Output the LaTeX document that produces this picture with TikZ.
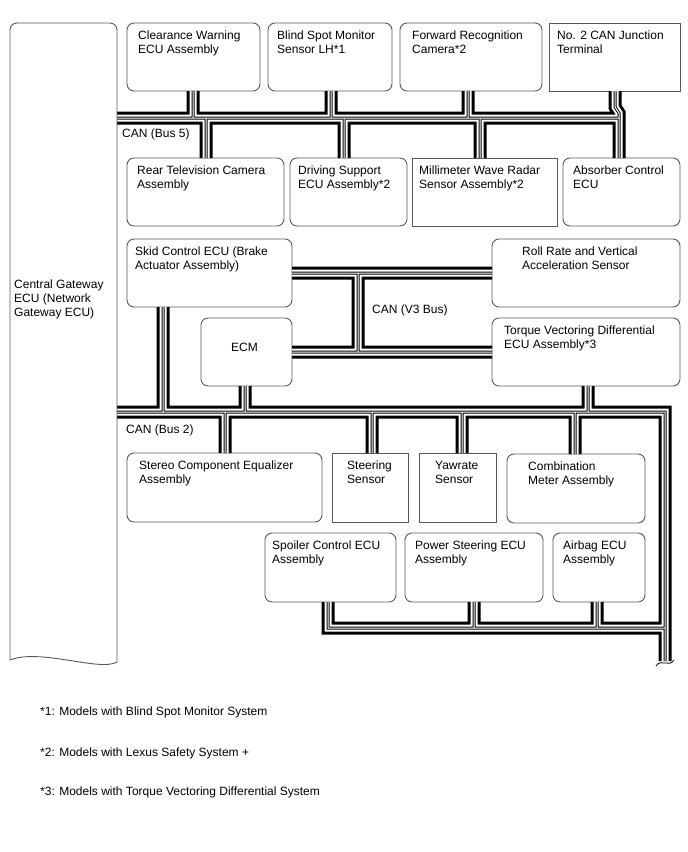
\documentclass[tikz,border=0pt]{standalone}
\usepackage{fontspec}
\setmainfont{Liberation Sans}
\usetikzlibrary{calc}
\newcommand\mkbox[6]{\node[#6, minimum width={(#4-#2)*1pt}, minimum height={(#5-#3)*1pt}] (#1) at ({(#2+#4)/2},{(#3+#5)/2}) {};}
\newcommand\txt[3]{\node[lbl] (#1-t) at ([xshift=#2pt,yshift=-6.7pt]#1.north west) {\strut #3};}
\begin{document}
\begin{tikzpicture}[x=1pt,y=-1pt,
  box/.style={draw=black!65, line width=0.9pt, fill=white, inner sep=0pt, outer sep=0pt, rounded corners=7pt},
  sqbox/.style={box, sharp corners},
  lbl/.style={anchor=north west, inner sep=0pt, align=left, font=\fontsize{12}{14}\selectfont},
  plain/.style={anchor=base west, inner sep=0pt, font=\fontsize{12}{14}\selectfont},
  gwline/.style={draw=black!65, line width=0.9pt},
  busjoin/.style={line join=miter, line cap=butt}]
\useasboundingbox (0,0) rectangle (688,852);

% gateway
\node[inner sep=0pt, outer sep=0pt, minimum width=107pt, minimum height=637pt] (gw) at (63.5,341.5) {};
\node[lbl] (gw-t) at (14,278.2) {\strut Central Gateway\\ECU (Network\\Gateway ECU)};

% boxes
\mkbox{cw}{127}{23}{260}{91}{box}
\mkbox{bsm}{268}{23}{392}{91}{box}
\mkbox{frc}{400}{23}{542}{91}{box}
\mkbox{cjt}{549}{23}{680}{91}{sqbox}
\mkbox{rtv}{127}{158}{284}{226}{box}
\mkbox{dsa}{290}{158}{407}{226}{box}
\mkbox{mwr}{412}{158}{557}{226}{sqbox}
\mkbox{acu}{563}{158}{680}{226}{box}
\mkbox{skid}{127}{239}{292}{307}{box}
\mkbox{ecm}{201}{318}{292}{386}{box}
\mkbox{roll}{492}{239}{680}{307}{box}
\mkbox{tvd}{492}{318}{680}{386}{box}
\mkbox{ece}{127}{453}{322}{522}{box}
\mkbox{sts}{332}{453}{408}{522}{sqbox}
\mkbox{yaw}{419}{453}{496}{522}{sqbox}
\mkbox{cmb}{507}{454}{645}{523}{box}
\mkbox{spl}{265}{533}{396}{602}{box}
\mkbox{pse}{405}{533}{543}{602}{box}
\mkbox{air}{553}{533}{645}{602}{box}

% bus junction coordinates
\coordinate (j5a) at (193,118);
\coordinate (j5b) at (206,118);
\coordinate (j5c) at (331,118);
\coordinate (j5d) at (344,118);
\coordinate (j5e) at (468,118);
\coordinate (j5f) at (480,118);
\coordinate (j5g) at (619,118);
\coordinate (j5t) at (615,107);
\coordinate (j5u) at (619,113);
\coordinate (v3a) at (358,273);
\coordinate (j2a) at (163,412);
\coordinate (j2b) at (225,412);
\coordinate (j2c) at (245,412);
\coordinate (j2d) at (372,412);
\coordinate (j2e) at (462,412);
\coordinate (j2f) at (575,412);
\coordinate (j2g) at (588,412);
\coordinate (j2h) at (665,412);
\coordinate (e2) at (665,661);
\coordinate (j3a) at (328,628);
\coordinate (j3b) at (474,628);
\coordinate (j3c) at (597,628);
\coordinate (j3d) at (665,628);

\def\busnet{
 (gw.east |- j5a) -- (j5g) -- (j5g |- acu.north)
 (j5a |- cw.south) -- (j5a)
 (j5b) -- (j5b |- rtv.north)
 (j5c |- bsm.south) -- (j5c)
 (j5d) -- (j5d |- dsa.north)
 (j5e |- frc.south) -- (j5e)
 (j5f) -- (j5f |- mwr.north)
 (j5t |- cjt.south) -- (j5t) -- (j5u) -- (j5g)
 (skid.east) -- (roll.west)
 (ecm.east) -- (tvd.west)
 (v3a) -- (v3a |- ecm.east)
 (gw.east |- j2a) -- (j2h) -- (e2)
 (j2a |- skid.south) -- (j2a)
 (j2b) -- (j2b |- ece.north)
 (j2c |- ecm.south) -- (j2c)
 (j2d) -- (j2d |- sts.north)
 (j2e) -- (j2e |- yaw.north)
 (j2f) -- (j2f |- cmb.north)
 (j2g |- tvd.south) -- (j2g)
 (j3a |- spl.south) -- (j3a) -- (j3d)
 (j3b |- pse.south) -- (j3b)
 (j3c |- air.south) -- (j3c)
}
\draw[busjoin, line width=13pt, black] \busnet;
\draw[busjoin, line width=7pt, white] \busnet;
\draw[busjoin, line width=3pt, black] \busnet;
\draw[busjoin, line width=1pt, white] \busnet;
\draw[line width=0.8pt] (656,666) .. controls (661,658) and (669,668) .. (674,660);

% gateway outline
\draw[gwline, rounded corners=7pt] (gw.south west) -- (gw.north west) -- (gw.north east) -- ([yshift=-2pt]gw.south east);
\draw[gwline] ([yshift=-2pt]gw.south east) .. controls (100,672) and (40,648) .. (gw.south west);

% texts
\txt{cw}{11}{Clearance Warning\\ECU Assembly}
\txt{bsm}{9}{Blind Spot Monitor\\Sensor LH*1}
\txt{frc}{12}{Forward Recognition\\Camera*2}
\txt{cjt}{8}{No. 2 CAN Junction\\Terminal}
\txt{rtv}{10}{Rear Television Camera\\Assembly}
\txt{dsa}{8}{Driving Support\\ECU Assembly*2}
\txt{mwr}{7}{Millimeter Wave Radar\\Sensor Assembly*2}
\txt{acu}{10}{Absorber Control\\ECU}
\txt{skid}{8}{Skid Control ECU (Brake\\Actuator Assembly)}
\txt{roll}{30}{Roll Rate and Vertical\\Acceleration Sensor}
\txt{tvd}{12}{Torque Vectoring Differential\\ECU Assembly*3}
\txt{ece}{12}{Stereo Component Equalizer\\Assembly}
\txt{sts}{15}{Steering\\Sensor}
\txt{yaw}{16}{Yawrate\\Sensor}
\txt{cmb}{21}{Combination\\Meter Assembly}
\txt{spl}{7}{Spoiler Control ECU\\Assembly}
\txt{pse}{10}{Power Steering ECU\\Assembly}
\txt{air}{10}{Airbag ECU\\Assembly}
\node[inner sep=0pt, font=\fontsize{12}{14}\selectfont] (ecm-t) at ([xshift=-2pt,yshift=5pt]ecm.center) {ECM};

% bus labels
\node[plain] (lb5) at (122,137) {CAN (Bus 5)};
\node[plain] (lv3) at (372,313) {CAN (V3 Bus)};
\node[plain] (lb2) at (126,433) {CAN (Bus 2)};

% footnotes
\node[plain] (fn1) at (40,715) {*1: Models with Blind Spot Monitor System};
\node[plain] (fn2) at (40,756) {*2: Models with Lexus Safety System +};
\node[plain] (fn3) at (40,795) {*3: Models with Torque Vectoring Differential System};
\end{tikzpicture}
\end{document}
